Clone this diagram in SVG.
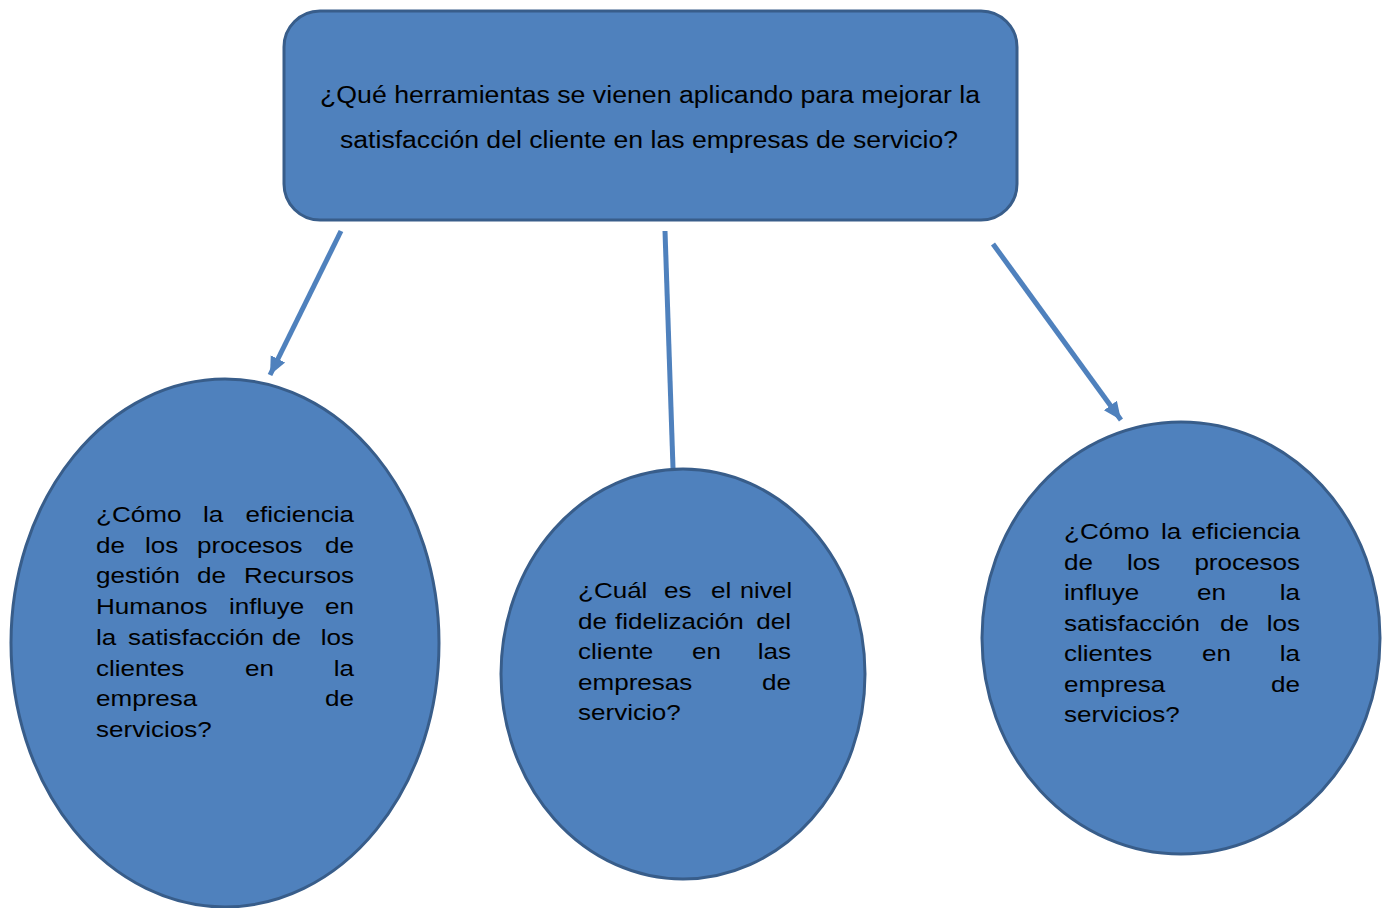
<svg xmlns="http://www.w3.org/2000/svg" width="1391" height="908" viewBox="0 0 1391 908">
<style>
.node{fill:#4f81bd;stroke:#385d8a;stroke-width:3}
.conn{stroke:#4f81bd;stroke-width:5;fill:none}
.t{font-family:"Liberation Sans",Arial,sans-serif;fill:#000}
.w{font-family:"Liberation Sans",Arial,sans-serif;fill:#000;font-size:22.5px}
</style>
<defs>
<marker id="ah" markerUnits="userSpaceOnUse" markerWidth="20" markerHeight="20" viewBox="0 0 20 20" refX="18" refY="10" orient="auto">
<path d="M0,2 L18,10 L0,18 Z" fill="#4f81bd"/>
</marker>
</defs>
<rect width="1391" height="908" fill="#fff"/>
<g id="connectors">
<line class="conn" x1="341" y1="231" x2="270" y2="375" marker-end="url(#ah)"/>
<line class="conn" x1="665" y1="231" x2="673" y2="468"/>
<line class="conn" x1="993" y1="244" x2="1121" y2="420" marker-end="url(#ah)"/>
</g>
<g id="top">
<rect class="node" x="284" y="11" width="733" height="209" rx="36" ry="36"/>
<text class="t" font-size="23.5" x="320" y="103" textLength="660" lengthAdjust="spacingAndGlyphs">¿Qué herramientas se vienen aplicando para mejorar la</text>
<text class="t" font-size="23.5" x="340" y="148" textLength="618" lengthAdjust="spacingAndGlyphs">satisfacción del cliente en las empresas de servicio?</text>
</g>
<g id="left">
<ellipse class="node" cx="225" cy="643" rx="214" ry="264"/>
<text class="w" x="96" y="522" textLength="85.4" lengthAdjust="spacingAndGlyphs">¿Cómo</text>
<text class="w" x="203" y="522" textLength="20.3" lengthAdjust="spacingAndGlyphs">la</text>
<text class="w" x="245.5" y="522" textLength="108.5" lengthAdjust="spacingAndGlyphs">eficiencia</text>
<text class="w" x="96" y="552.7" textLength="29" lengthAdjust="spacingAndGlyphs">de</text>
<text class="w" x="145" y="552.7" textLength="33.3" lengthAdjust="spacingAndGlyphs">los</text>
<text class="w" x="197" y="552.7" textLength="105.6" lengthAdjust="spacingAndGlyphs">procesos</text>
<text class="w" x="325" y="552.7" textLength="29" lengthAdjust="spacingAndGlyphs">de</text>
<text class="w" x="96" y="583.4" textLength="84" lengthAdjust="spacingAndGlyphs">gestión</text>
<text class="w" x="197" y="583.4" textLength="29" lengthAdjust="spacingAndGlyphs">de</text>
<text class="w" x="244" y="583.4" textLength="110" lengthAdjust="spacingAndGlyphs">Recursos</text>
<text class="w" x="96" y="614" textLength="111.4" lengthAdjust="spacingAndGlyphs">Humanos</text>
<text class="w" x="229" y="614" textLength="75.3" lengthAdjust="spacingAndGlyphs">influye</text>
<text class="w" x="325" y="614" textLength="29" lengthAdjust="spacingAndGlyphs">en</text>
<text class="w" x="96" y="645" textLength="20.3" lengthAdjust="spacingAndGlyphs">la</text>
<text class="w" x="128" y="645" textLength="136" lengthAdjust="spacingAndGlyphs">satisfacción</text>
<text class="w" x="272" y="645" textLength="29" lengthAdjust="spacingAndGlyphs">de</text>
<text class="w" x="320.7" y="645" textLength="33.3" lengthAdjust="spacingAndGlyphs">los</text>
<text class="w" x="96" y="675.5" textLength="88.3" lengthAdjust="spacingAndGlyphs">clientes</text>
<text class="w" x="245" y="675.5" textLength="29" lengthAdjust="spacingAndGlyphs">en</text>
<text class="w" x="333.7" y="675.5" textLength="20.3" lengthAdjust="spacingAndGlyphs">la</text>
<text class="w" x="96" y="706" textLength="101.3" lengthAdjust="spacingAndGlyphs">empresa</text>
<text class="w" x="325" y="706" textLength="29" lengthAdjust="spacingAndGlyphs">de</text>
<text class="w" x="96" y="737" textLength="115.7" lengthAdjust="spacingAndGlyphs">servicios?</text>
</g>
<g id="middle">
<ellipse class="node" cx="683" cy="674" rx="182" ry="205"/>
<text class="w" x="578" y="598" textLength="69.4" lengthAdjust="spacingAndGlyphs">¿Cuál</text>
<text class="w" x="664" y="598" textLength="27.5" lengthAdjust="spacingAndGlyphs">es</text>
<text class="w" x="711" y="598" textLength="20.3" lengthAdjust="spacingAndGlyphs">el</text>
<text class="w" x="740" y="598" textLength="52" lengthAdjust="spacingAndGlyphs">nivel</text>
<text class="w" x="578" y="628.5" textLength="29" lengthAdjust="spacingAndGlyphs">de</text>
<text class="w" x="615" y="628.5" textLength="128.8" lengthAdjust="spacingAndGlyphs">fidelización</text>
<text class="w" x="756.3" y="628.5" textLength="34.7" lengthAdjust="spacingAndGlyphs">del</text>
<text class="w" x="578" y="659" textLength="75.3" lengthAdjust="spacingAndGlyphs">cliente</text>
<text class="w" x="692" y="659" textLength="29" lengthAdjust="spacingAndGlyphs">en</text>
<text class="w" x="757.7" y="659" textLength="33.3" lengthAdjust="spacingAndGlyphs">las</text>
<text class="w" x="578" y="689.5" textLength="114.3" lengthAdjust="spacingAndGlyphs">empresas</text>
<text class="w" x="762" y="689.5" textLength="29" lengthAdjust="spacingAndGlyphs">de</text>
<text class="w" x="578" y="720" textLength="102.7" lengthAdjust="spacingAndGlyphs">servicio?</text>
</g>
<g id="right">
<ellipse class="node" cx="1181" cy="638" rx="199" ry="216"/>
<text class="w" x="1064" y="539" textLength="85.4" lengthAdjust="spacingAndGlyphs">¿Cómo</text>
<text class="w" x="1161" y="539" textLength="20.3" lengthAdjust="spacingAndGlyphs">la</text>
<text class="w" x="1191.5" y="539" textLength="108.5" lengthAdjust="spacingAndGlyphs">eficiencia</text>
<text class="w" x="1064" y="570" textLength="29" lengthAdjust="spacingAndGlyphs">de</text>
<text class="w" x="1127" y="570" textLength="33.3" lengthAdjust="spacingAndGlyphs">los</text>
<text class="w" x="1194.4" y="570" textLength="105.6" lengthAdjust="spacingAndGlyphs">procesos</text>
<text class="w" x="1064" y="600" textLength="75.3" lengthAdjust="spacingAndGlyphs">influye</text>
<text class="w" x="1197" y="600" textLength="29" lengthAdjust="spacingAndGlyphs">en</text>
<text class="w" x="1279.7" y="600" textLength="20.3" lengthAdjust="spacingAndGlyphs">la</text>
<text class="w" x="1064" y="631" textLength="136" lengthAdjust="spacingAndGlyphs">satisfacción</text>
<text class="w" x="1220" y="631" textLength="29" lengthAdjust="spacingAndGlyphs">de</text>
<text class="w" x="1266.7" y="631" textLength="33.3" lengthAdjust="spacingAndGlyphs">los</text>
<text class="w" x="1064" y="661" textLength="88.3" lengthAdjust="spacingAndGlyphs">clientes</text>
<text class="w" x="1202" y="661" textLength="29" lengthAdjust="spacingAndGlyphs">en</text>
<text class="w" x="1279.7" y="661" textLength="20.3" lengthAdjust="spacingAndGlyphs">la</text>
<text class="w" x="1064" y="692" textLength="101.3" lengthAdjust="spacingAndGlyphs">empresa</text>
<text class="w" x="1271" y="692" textLength="29" lengthAdjust="spacingAndGlyphs">de</text>
<text class="w" x="1064" y="722" textLength="115.7" lengthAdjust="spacingAndGlyphs">servicios?</text>
</g>
</svg>
